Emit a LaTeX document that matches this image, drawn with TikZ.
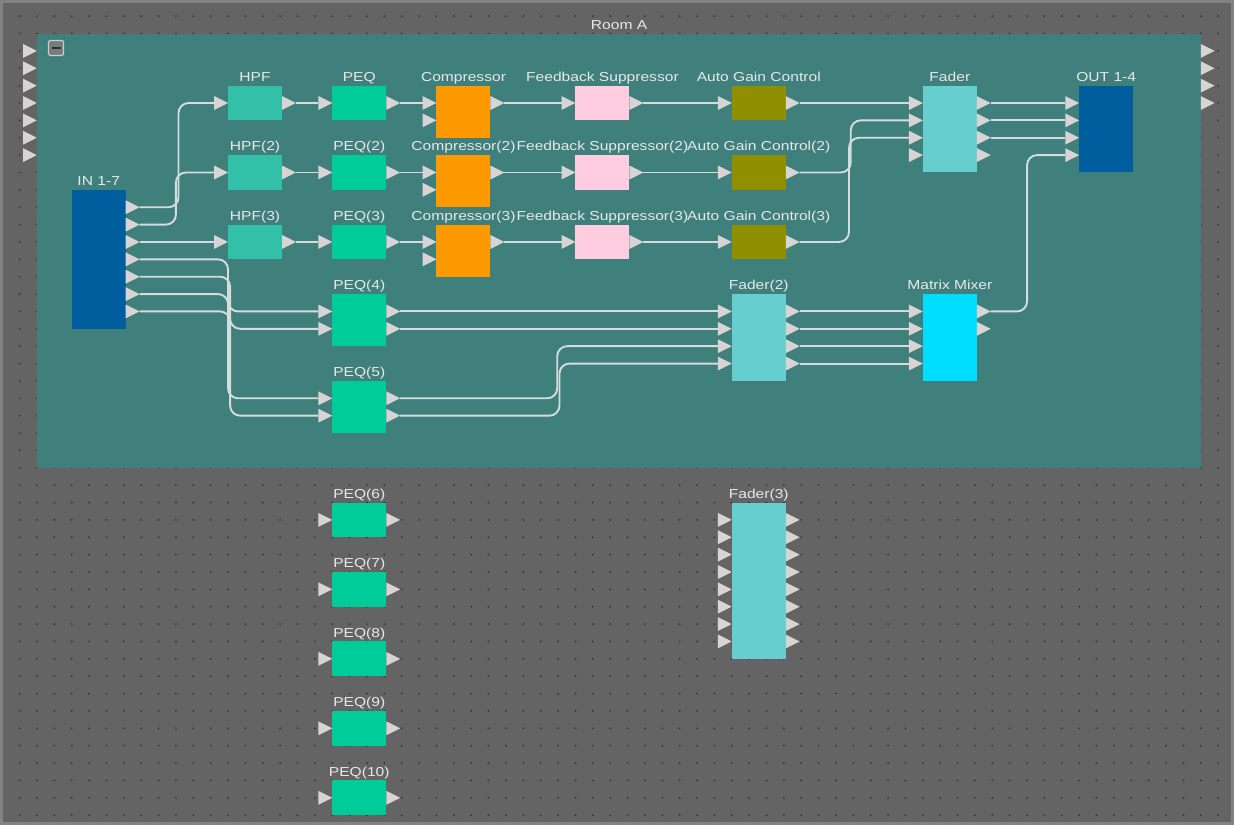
\documentclass[tikz,border=0pt]{standalone}
\usepackage{fontspec}
\newfontfamily\uifont{Liberation Sans}[FakeStretch=1.2]
\usetikzlibrary{positioning,calc}
\definecolor{canvasgray}{RGB}{100,100,100}
\definecolor{framegray}{RGB}{130,130,130}
\definecolor{dotgray}{RGB}{58,58,58}
\definecolor{roomteal}{RGB}{63,127,124}
\definecolor{ioblue}{RGB}{0,94,158}
\definecolor{hpfgreen}{RGB}{51,192,168}
\definecolor{peqgreen}{RGB}{0,204,153}
\definecolor{comporange}{RGB}{255,153,0}
\definecolor{fbspink}{RGB}{255,204,224}
\definecolor{agcolive}{RGB}{143,143,0}
\definecolor{fadercyan}{RGB}{102,206,206}
\definecolor{mixcyan}{RGB}{0,221,255}
\definecolor{portgray}{RGB}{216,212,212}
\definecolor{wiregray}{RGB}{212,220,220}
\definecolor{textgray}{RGB}{232,232,232}
\definecolor{btnedge}{RGB}{200,205,205}
\definecolor{btnfill}{RGB}{118,124,124}
\definecolor{btnmark}{RGB}{50,50,50}

\tikzset{
  blk/.style={draw=none, minimum width=54pt, inner sep=0pt, outer sep=0pt},
  lbl/.style={font=\uifont\fontsize{13}{13}\selectfont, text=textgray, inner sep=1.5pt, text height=9.5pt, text depth=2.5pt},
  port/.style={fill=portgray},
  wire/.style={draw=wiregray, line width=1.9pt, rounded corners=10pt},
}

% block: name, x, y, rows, colour, inputs, outputs, label
\newcommand{\dspblock}[8]{%
  \node[blk, fill=#5, minimum height=#4*17.37pt, anchor=north west] (#1) at (#2,#3) {};
  \node[lbl, above=0pt of #1] (#1-t) {#8};
  \ifnum#6>0
    \foreach \k in {1,...,#6}{
      \coordinate (#1-i\k) at ($(#1.north west)+(-0.8,\k)$);
      \fill[port] ($(#1-i\k)+(0,-0.4)$) -- ($(#1-i\k)+(0.8,0)$) -- ($(#1-i\k)+(0,0.4)$) -- cycle;
    }
  \fi
  \ifnum#7>0
    \foreach \k in {1,...,#7}{
      \coordinate (#1-o\k) at ($(#1.north east)+(0.8,\k)$);
      \fill[port] ($(#1.north east)+(0,\k-0.4)$) -- (#1-o\k) -- ($(#1.north east)+(0,\k+0.4)$) -- cycle;
    }
  \fi
}

\begin{document}
\begin{tikzpicture}[x=17.37pt, y=-17.37pt]
\useasboundingbox (-1.1284,-0.9298) rectangle (69.914,46.566);

% Canvas and grid
\fill[canvasgray] (-1.1284,-0.9298) rectangle (69.914,46.566);
\foreach \x in {0,...,69}
  \foreach \y in {0,...,46}
    \fill[dotgray] (\x,\y) circle (1.1pt);
\draw[framegray, line width=6pt] (-1.1284,-0.9298) rectangle (69.914,46.566);

% Room A
\node[fill=roomteal, inner sep=0pt, minimum width=67*17.37pt, minimum height=25*17.37pt, anchor=north west] (roomA) at (1,1) {};
\node[lbl, above=0pt of roomA] (roomA-t) {Room A};
\node[draw=btnedge, fill=btnfill, line width=1.2pt, rounded corners=2pt, minimum size=15pt, inner sep=0pt] (collapse) at (2.1,1.83) {};
\draw[btnmark, line width=2pt] ([xshift=-4.5pt]collapse.center) -- ([xshift=4.5pt]collapse.center);
\foreach \r in {2,...,8}
  \fill[port] (0.2,\r-0.4) -- (1,\r) -- (0.2,\r+0.4) -- cycle;
\foreach \r in {2,...,5}
  \fill[port] (68,\r-0.4) -- (68.8,\r) -- (68,\r+0.4) -- cycle;

% Blocks
\dspblock{in17}{3}{10}{8}{ioblue}{0}{7}{IN 1-7}
\dspblock{hpf1}{12}{4}{2}{hpfgreen}{1}{1}{HPF}
\dspblock{hpf2}{12}{8}{2}{hpfgreen}{1}{1}{HPF(2)}
\dspblock{hpf3}{12}{12}{2}{hpfgreen}{1}{1}{HPF(3)}
\dspblock{peq1}{18}{4}{2}{peqgreen}{1}{1}{PEQ}
\dspblock{peq2}{18}{8}{2}{peqgreen}{1}{1}{PEQ(2)}
\dspblock{peq3}{18}{12}{2}{peqgreen}{1}{1}{PEQ(3)}
\dspblock{peq4}{18}{16}{3}{peqgreen}{2}{2}{PEQ(4)}
\dspblock{peq5}{18}{21}{3}{peqgreen}{2}{2}{PEQ(5)}
\dspblock{comp1}{24}{4}{3}{comporange}{2}{1}{Compressor}
\dspblock{comp2}{24}{8}{3}{comporange}{2}{1}{Compressor(2)}
\dspblock{comp3}{24}{12}{3}{comporange}{2}{1}{Compressor(3)}
\dspblock{fbs1}{32}{4}{2}{fbspink}{1}{1}{Feedback Suppressor}
\dspblock{fbs2}{32}{8}{2}{fbspink}{1}{1}{Feedback Suppressor(2)}
\dspblock{fbs3}{32}{12}{2}{fbspink}{1}{1}{Feedback Suppressor(3)}
\dspblock{agc1}{41}{4}{2}{agcolive}{1}{1}{Auto Gain Control}
\dspblock{agc2}{41}{8}{2}{agcolive}{1}{1}{Auto Gain Control(2)}
\dspblock{agc3}{41}{12}{2}{agcolive}{1}{1}{Auto Gain Control(3)}
\dspblock{fader1}{52}{4}{5}{fadercyan}{4}{4}{Fader}
\dspblock{out14}{61}{4}{5}{ioblue}{4}{0}{OUT 1-4}
\dspblock{fader2}{41}{16}{5}{fadercyan}{4}{4}{Fader(2)}
\dspblock{mtx}{52}{16}{5}{mixcyan}{4}{2}{Matrix Mixer}

% Spare blocks outside the room
\dspblock{peq6}{18}{28}{2}{peqgreen}{1}{1}{PEQ(6)}
\dspblock{peq7}{18}{32}{2}{peqgreen}{1}{1}{PEQ(7)}
\dspblock{peq8}{18}{36}{2}{peqgreen}{1}{1}{PEQ(8)}
\dspblock{peq9}{18}{40}{2}{peqgreen}{1}{1}{PEQ(9)}
\dspblock{peq10}{18}{44}{2}{peqgreen}{1}{1}{PEQ(10)}
\dspblock{fader3}{41}{28}{9}{fadercyan}{8}{8}{Fader(3)}

% Bend columns
\coordinate (bendA) at (9.15,0);
\coordinate (bendB) at (9.0,0);
\coordinate (bendC) at (12.0,0);
\coordinate (bendD) at (12.12,0);
\coordinate (bendE) at (30.95,0);
\coordinate (bendF) at (31.08,0);
\coordinate (bendG) at (47.85,0);
\coordinate (bendH) at (47.75,0);
\coordinate (bendI) at (58.0,0);

% Inputs to first stage
\draw[wire] (in17-o1) -| (bendA |- hpf1-i1) -- (hpf1-i1);
\draw[wire] (in17-o2) -| (bendB |- hpf2-i1) -- (hpf2-i1);
\draw[wire] (in17-o3) -- (hpf3-i1);
\draw[wire] (in17-o4) -| (bendC |- peq4-i1) -- (peq4-i1);
\draw[wire] (in17-o5) -| (bendD |- peq4-i2) -- (peq4-i2);
\draw[wire] (in17-o6) -| (bendC |- peq5-i1) -- (peq5-i1);
\draw[wire] (in17-o7) -| (bendD |- peq5-i2) -- (peq5-i2);

% Three processing chains
\foreach \n in {1,2,3}{
  \draw[wire] (hpf\n-o1) -- (peq\n-i1);
  \draw[wire] (peq\n-o1) -- (comp\n-i1);
  \draw[wire] (comp\n-o1) -- (fbs\n-i1);
  \draw[wire] (fbs\n-o1) -- (agc\n-i1);
}
\draw[wire] (agc1-o1) -- (fader1-i1);
\draw[wire] (agc2-o1) -| (bendG |- fader1-i2) -- (fader1-i2);
\draw[wire] (agc3-o1) -| (bendH |- fader1-i3) -- (fader1-i3);
\foreach \k in {1,2,3}
  \draw[wire] (fader1-o\k) -- (out14-i\k);

% Lower path
\draw[wire] (peq4-o1) -- (fader2-i1);
\draw[wire] (peq4-o2) -- (fader2-i2);
\draw[wire] (peq5-o1) -| (bendE |- fader2-i3) -- (fader2-i3);
\draw[wire] (peq5-o2) -| (bendF |- fader2-i4) -- (fader2-i4);
\foreach \k in {1,...,4}
  \draw[wire] (fader2-o\k) -- (mtx-i\k);
\draw[wire] (mtx-o1) -| (bendI |- out14-i4) -- (out14-i4);
\end{tikzpicture}
\end{document}
